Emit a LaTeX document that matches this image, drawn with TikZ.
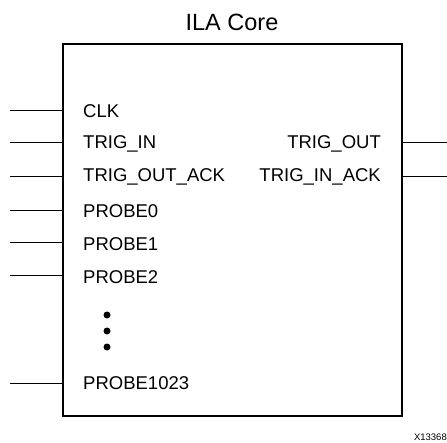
\documentclass[tikz,border=0pt]{standalone}
\usepackage{fontspec}
\setmainfont{Liberation Sans}
\usepackage{tikz}
\usetikzlibrary{positioning}
\tikzset{
  pinlabel/.style={inner sep=0pt, font=\fontsize{18.5}{20}\selectfont},
  pinwire/.style={line width=1pt},
  dotmark/.style={circle, fill, inner sep=0pt, minimum size=7pt}
}

\begin{document}
\begin{tikzpicture}[x=1pt, y=1pt]
  \useasboundingbox (0,0) rectangle (447,442);

  % core block
  \coordinate (corenw) at (63,398);
  \coordinate (corese) at (402,26);
  \draw[line width=2pt] (corenw) rectangle (corese);
  \node[inner sep=0pt, font=\fontsize{23.5}{26}\selectfont] (title) at (232,420) {ILA Core};

  % inputs
  \node[pinlabel, anchor=west] (clk) at (83,331) {CLK};
  \node[pinlabel, anchor=west] (trigin) at (83,298) {TRIG\_IN};
  \node[pinlabel, anchor=west] (trigoutack) at (83,265) {TRIG\_OUT\_ACK};
  \node[pinlabel, anchor=west] (probe0) at (83,231) {PROBE0};
  \node[pinlabel, anchor=west] (probe1) at (83,198) {PROBE1};
  \node[pinlabel, anchor=west] (probe2) at (83,165) {PROBE2};
  \node[pinlabel, anchor=west] (probelast) at (83,59) {PROBE1023};

  \node[dotmark] (dota) at (107,127) {};
  \node[dotmark] (dotb) at (107,111) {};
  \node[dotmark] (dotc) at (107,95) {};

  % outputs
  \node[pinlabel, anchor=east] (trigout) at (381,298) {TRIG\_OUT};
  \node[pinlabel, anchor=east] (triginack) at (381,265) {TRIG\_IN\_ACK};

  \coordinate (clkpin) at (10,331);
  \coordinate (triginpin) at (10,299);
  \coordinate (trigoutackpin) at (10,265);
  \coordinate (probe0pin) at (10,231);
  \coordinate (probe1pin) at (10,199);
  \coordinate (probe2pin) at (10,166);
  \coordinate (probelastpin) at (10,59);
  \coordinate (trigoutpin) at (447,299);
  \coordinate (triginackpin) at (447,265);

  \draw[pinwire] (clkpin) -- (clkpin -| corenw);
  \draw[pinwire] (triginpin) -- (triginpin -| corenw);
  \draw[pinwire] (trigoutackpin) -- (trigoutackpin -| corenw);
  \draw[pinwire] (probe0pin) -- (probe0pin -| corenw);
  \draw[pinwire] (probe1pin) -- (probe1pin -| corenw);
  \draw[pinwire] (probe2pin) -- (probe2pin -| corenw);
  \draw[pinwire] (probelastpin) -- (probelastpin -| corenw);
  \draw[pinwire] (trigoutpin -| corese) -- (trigoutpin);
  \draw[pinwire] (triginackpin -| corese) -- (triginackpin);

  \node[inner sep=0pt, anchor=east, font=\fontsize{9.5}{11}\selectfont] (figid) at (447,5) {X13368};
\end{tikzpicture}
\end{document}
